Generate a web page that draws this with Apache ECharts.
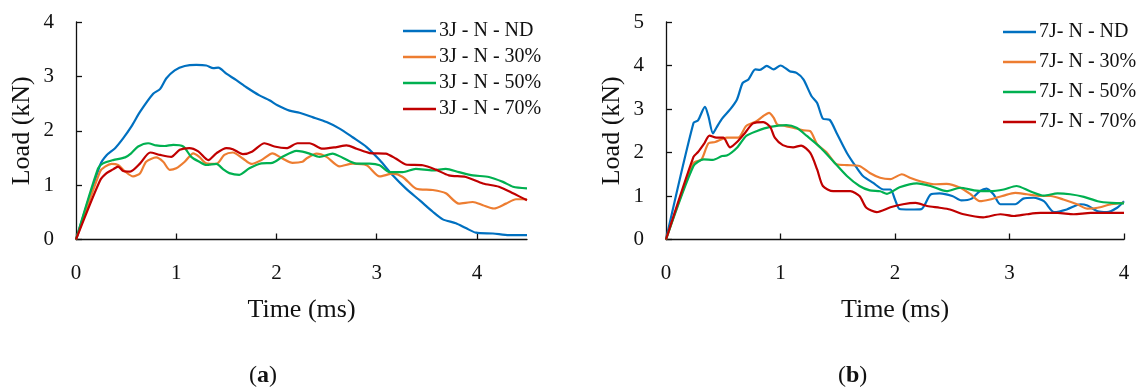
<!DOCTYPE html>
<html>
<head>
<meta charset="utf-8">
<script src="https://cdn.jsdelivr.net/npm/echarts@6/dist/echarts.min.js"></script>
<style>
html,body{margin:0;padding:0;background:#fff;}
#chart{width:1137px;height:390px;}
</style>
</head>
<body>
<div id="chart"></div>
<script>
// ---- Data (time in ms, load in kN) ----
var seriesNamesA = ['3J - N - ND', '3J - N - 30%', '3J - N - 50%', '3J - N - 70%'];
var seriesNamesB = ['7J- N - ND', '7J- N - 30%', '7J- N - 50%', '7J- N - 70%'];
var xTicksA = [0, 1, 2, 3, 4];
var xTicksB = [0, 1, 2, 3, 4];

var a_ND = [[0,0],[0.24,1.37],[0.305,1.55],[0.39,1.68],[0.47,1.86],[0.55,2.07],[0.64,2.35],[0.77,2.68],[0.84,2.77],[0.90,2.96],[0.985,3.11],[1.085,3.19],[1.20,3.21],[1.30,3.20],[1.37,3.15],[1.42,3.16],[1.50,3.05],[1.60,2.93],[1.70,2.80],[1.83,2.65],[1.93,2.56],[2.01,2.47],[2.13,2.37],[2.23,2.33],[2.36,2.25],[2.50,2.16],[2.63,2.04],[2.76,1.88],[2.90,1.70],[3.03,1.46],[3.16,1.18],[3.29,0.94],[3.43,0.72],[3.56,0.51],[3.66,0.37],[3.79,0.30],[3.89,0.21],[3.99,0.125],[4.16,0.11],[4.32,0.08],[4.5,0.08]];
var a_30 = [[0,0],[0.24,1.25],[0.29,1.34],[0.355,1.39],[0.42,1.37],[0.49,1.25],[0.57,1.16],[0.64,1.22],[0.70,1.43],[0.80,1.51],[0.87,1.43],[0.935,1.28],[1.00,1.31],[1.085,1.43],[1.17,1.585],[1.23,1.52],[1.30,1.40],[1.40,1.39],[1.48,1.555],[1.565,1.60],[1.665,1.49],[1.75,1.39],[1.85,1.46],[1.96,1.585],[2.06,1.49],[2.16,1.41],[2.26,1.43],[2.30,1.49],[2.40,1.58],[2.50,1.52],[2.63,1.345],[2.76,1.395],[2.90,1.365],[3.03,1.16],[3.16,1.21],[3.26,1.15],[3.39,0.94],[3.56,0.91],[3.69,0.85],[3.82,0.66],[3.96,0.69],[4.06,0.63],[4.17,0.57],[4.29,0.66],[4.39,0.74],[4.5,0.74]];
var a_50 = [[0,0],[0.22,1.31],[0.27,1.40],[0.37,1.46],[0.49,1.51],[0.55,1.585],[0.62,1.71],[0.72,1.77],[0.80,1.73],[0.885,1.72],[0.97,1.74],[1.07,1.71],[1.15,1.52],[1.23,1.43],[1.30,1.37],[1.40,1.39],[1.47,1.29],[1.53,1.22],[1.63,1.19],[1.73,1.31],[1.85,1.40],[1.96,1.41],[2.06,1.52],[2.20,1.63],[2.26,1.615],[2.33,1.58],[2.43,1.52],[2.56,1.58],[2.66,1.505],[2.80,1.395],[2.93,1.395],[3.03,1.365],[3.13,1.24],[3.26,1.24],[3.39,1.30],[3.56,1.27],[3.69,1.30],[3.82,1.24],[3.96,1.18],[4.12,1.15],[4.26,1.06],[4.36,0.97],[4.5,0.94]];
var a_70 = [[0,0],[0.24,1.085],[0.305,1.22],[0.37,1.29],[0.42,1.34],[0.47,1.26],[0.54,1.25],[0.64,1.40],[0.74,1.60],[0.84,1.555],[0.95,1.52],[1.035,1.65],[1.13,1.68],[1.22,1.62],[1.32,1.46],[1.40,1.585],[1.50,1.68],[1.565,1.66],[1.665,1.57],[1.76,1.62],[1.88,1.77],[1.98,1.71],[2.10,1.68],[2.21,1.77],[2.33,1.77],[2.46,1.67],[2.60,1.70],[2.70,1.73],[2.80,1.67],[2.93,1.59],[3.09,1.58],[3.19,1.49],[3.29,1.38],[3.46,1.365],[3.59,1.285],[3.72,1.18],[3.89,1.15],[4.06,1.03],[4.22,0.97],[4.36,0.85],[4.5,0.72]];

var b_ND = [[0,0],[0.24,2.68],[0.28,2.74],[0.34,3.05],[0.37,2.84],[0.41,2.44],[0.44,2.57],[0.49,2.78],[0.56,2.99],[0.62,3.22],[0.67,3.60],[0.72,3.68],[0.78,3.91],[0.82,3.90],[0.88,3.99],[0.94,3.91],[1.00,4.00],[1.08,3.87],[1.14,3.83],[1.20,3.68],[1.27,3.30],[1.32,3.14],[1.37,2.78],[1.43,2.75],[1.49,2.45],[1.58,1.99],[1.665,1.65],[1.72,1.46],[1.81,1.30],[1.90,1.15],[1.96,1.15],[2.0,0.92],[2.04,0.70],[2.13,0.69],[2.23,0.70],[2.31,1.03],[2.39,1.06],[2.50,1.00],[2.58,0.90],[2.67,0.94],[2.74,1.11],[2.80,1.17],[2.86,1.04],[2.92,0.81],[3.05,0.81],[3.12,0.94],[3.21,0.96],[3.30,0.88],[3.39,0.63],[3.50,0.69],[3.62,0.81],[3.68,0.78],[3.77,0.65],[3.85,0.63],[3.94,0.73],[4.0,0.88]];
var b_30 = [[0,0],[0.24,1.76],[0.31,1.84],[0.37,2.21],[0.43,2.24],[0.53,2.34],[0.63,2.34],[0.70,2.61],[0.79,2.72],[0.85,2.84],[0.90,2.91],[0.94,2.80],[0.97,2.65],[1.02,2.62],[1.11,2.57],[1.20,2.51],[1.26,2.49],[1.32,2.19],[1.40,2.01],[1.49,1.73],[1.58,1.71],[1.69,1.69],[1.78,1.53],[1.87,1.42],[1.96,1.39],[2.06,1.50],[2.13,1.42],[2.22,1.34],[2.34,1.27],[2.45,1.28],[2.57,1.19],[2.66,1.04],[2.74,0.88],[2.83,0.92],[2.95,1.01],[3.05,1.07],[3.15,1.04],[3.27,1.00],[3.36,1.00],[3.47,0.92],[3.59,0.81],[3.68,0.71],[3.77,0.73],[3.89,0.81],[4.0,0.84]];
var b_50 = [[0,0],[0.24,1.69],[0.33,1.84],[0.41,1.83],[0.49,1.92],[0.53,1.93],[0.62,2.11],[0.70,2.38],[0.79,2.49],[0.91,2.59],[1.05,2.63],[1.14,2.57],[1.23,2.38],[1.35,2.11],[1.46,1.80],[1.58,1.46],[1.69,1.23],[1.78,1.13],[1.87,1.11],[1.93,1.05],[2.04,1.20],[2.19,1.29],[2.31,1.23],[2.45,1.11],[2.57,1.19],[2.69,1.13],[2.83,1.11],[2.95,1.15],[3.06,1.23],[3.18,1.11],[3.30,1.01],[3.42,1.06],[3.53,1.04],[3.65,0.98],[3.77,0.88],[3.89,0.84],[4.0,0.83]];
var b_70 = [[0,0],[0.24,1.90],[0.28,2.01],[0.33,2.19],[0.38,2.39],[0.44,2.34],[0.50,2.34],[0.56,2.12],[0.62,2.24],[0.69,2.45],[0.76,2.67],[0.85,2.70],[0.91,2.59],[0.95,2.34],[1.02,2.17],[1.11,2.12],[1.18,2.16],[1.26,1.99],[1.32,1.61],[1.37,1.23],[1.46,1.11],[1.61,1.11],[1.69,1.00],[1.75,0.73],[1.84,0.63],[1.96,0.74],[2.07,0.81],[2.18,0.84],[2.28,0.77],[2.39,0.73],[2.48,0.69],[2.60,0.58],[2.77,0.51],[2.92,0.58],[3.04,0.54],[3.15,0.58],[3.27,0.61],[3.42,0.61],[3.56,0.58],[3.71,0.61],[3.85,0.61],[4.0,0.61]];

var colors = ['#0070C0', '#ED7D31', '#00B050', '#C00000'];
var FONT = 'Liberation Serif';

function xAxisCfg(gridIndex, max, ticks) {
  return {
    type: 'value', gridIndex: gridIndex, min: 0, max: max, interval: 1,
    name: 'Time (ms)', nameLocation: 'middle', nameGap: 58,
    nameTextStyle: {fontFamily: FONT, fontSize: 26, color: '#111'},
    axisLine: {show: true, lineStyle: {color: '#111', width: 1.3}},
    axisTick: {show: true, inside: true, length: 6, lineStyle: {color: '#111', width: 1.3}, customValues: ticks},
    axisLabel: {fontFamily: FONT, fontSize: 21, color: '#111', margin: 23, customValues: ticks},
    splitLine: {show: false}
  };
}
function yAxisCfg(gridIndex, max) {
  return {
    type: 'value', gridIndex: gridIndex, min: 0, max: max, interval: 1,
    name: 'Load (kN)', nameLocation: 'middle', nameGap: 41,
    nameTextStyle: {fontFamily: FONT, fontSize: 26, color: '#111'},
    axisLine: {show: true, lineStyle: {color: '#111', width: 1.3}},
    axisTick: {show: true, inside: true, length: 6, lineStyle: {color: '#111', width: 1.3}},
    axisLabel: {fontFamily: FONT, fontSize: 21, color: '#111', margin: 22},
    splitLine: {show: false}
  };
}
function lineSeries(name, data, idx, color) {
  return {
    type: 'line', name: name, data: data, xAxisIndex: idx, yAxisIndex: idx,
    showSymbol: false, symbol: 'none', smooth: 0.25,
    lineStyle: {color: color, width: 2.2}, itemStyle: {color: color},
    emphasis: {disabled: true}, animation: false
  };
}

var dataA = [a_ND, a_30, a_50, a_70];
var dataB = [b_ND, b_30, b_50, b_70];
var series = [];
for (var i = 0; i < 4; i++) series.push(lineSeries(seriesNamesA[i], dataA[i], 0, colors[i]));
for (var j = 0; j < 4; j++) series.push(lineSeries(seriesNamesB[j], dataB[j], 1, colors[j]));

var legendBase = {
  orient: 'vertical', icon: 'rect', itemWidth: 33, itemHeight: 2.5, padding: 0,
  textStyle: {fontFamily: FONT, fontSize: 20, color: '#111', lineHeight: 20, padding: [0, 0, 0, -2]},
  selectedMode: false
};

var chart = echarts.init(document.getElementById('chart'), null, {renderer: 'canvas'});
chart.setOption({
  animation: false,
  backgroundColor: '#fff',
  title: [
    {text: '({b|a})', left: 244, top: 359, padding: 5,
     textStyle: {fontFamily: FONT, fontSize: 24, fontWeight: 'normal', color: '#111',
       rich: {b: {fontFamily: FONT, fontSize: 24, fontWeight: 'bold', color: '#111'}}}},
    {text: '({b|b})', left: 833, top: 359, padding: 5,
     textStyle: {fontFamily: FONT, fontSize: 24, fontWeight: 'normal', color: '#111',
       rich: {b: {fontFamily: FONT, fontSize: 24, fontWeight: 'bold', color: '#111'}}}}
  ],
  legend: [
    Object.assign({}, legendBase, {data: seriesNamesA, left: 403, top: 21, itemGap: 6}),
    Object.assign({}, legendBase, {data: seriesNamesB, left: 1003, top: 22, itemGap: 10})
  ],
  grid: [
    {left: 76, top: 22, width: 451, height: 217.5},
    {left: 666, top: 22, width: 458, height: 217.5}
  ],
  xAxis: [xAxisCfg(0, 4.5, xTicksA), xAxisCfg(1, 4, xTicksB)],
  yAxis: [yAxisCfg(0, 4), yAxisCfg(1, 5)],
  series: series
});
</script>
</body>
</html>
